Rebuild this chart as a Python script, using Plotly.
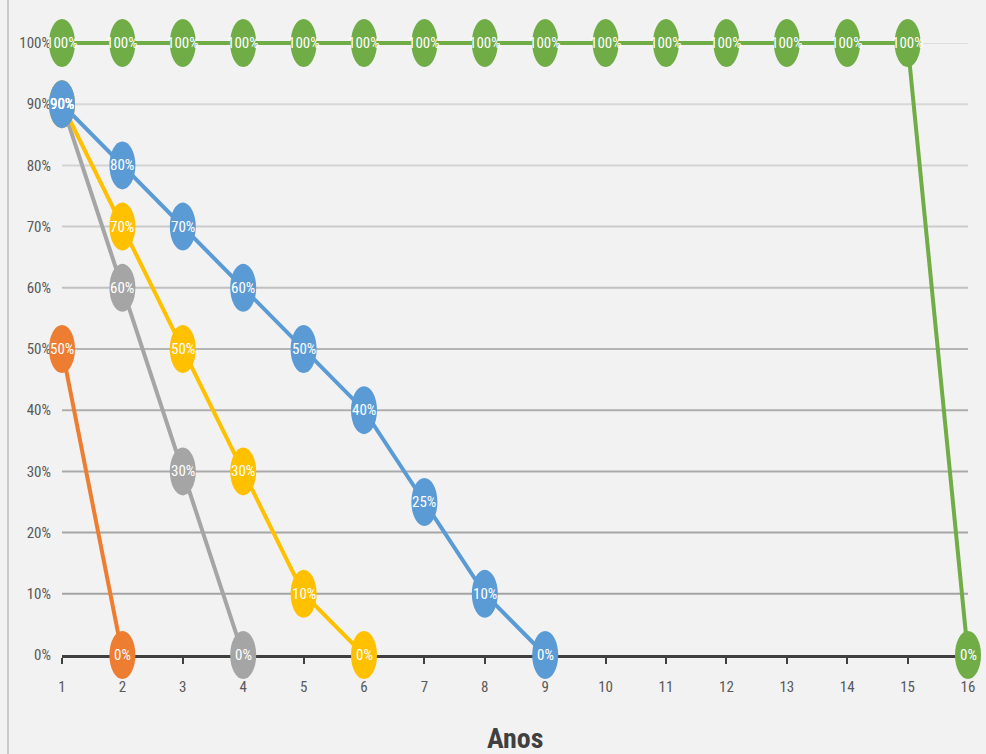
import plotly.graph_objects as go

# ---- data -----------------------------------------------------------------
anos = list(range(1, 17))
y_ticks = [0.0, 0.1, 0.2, 0.3, 0.4, 0.5, 0.6, 0.7, 0.8, 0.9, 1.0]

laranja_x = [1, 2]
laranja_y = [0.50, 0.00]

cinza_x = [1, 2, 3, 4]
cinza_y = [0.90, 0.60, 0.30, 0.00]

amarelo_x = [1, 2, 3, 4, 5, 6]
amarelo_y = [0.90, 0.70, 0.50, 0.30, 0.10, 0.00]

azul_x = [1, 2, 3, 4, 5, 6, 7, 8, 9]
azul_y = [0.90, 0.80, 0.70, 0.60, 0.50, 0.40, 0.25, 0.10, 0.00]

verde_x = [1, 2, 3, 4, 5, 6, 7, 8, 9, 10, 11, 12, 13, 14, 15, 16]
verde_y = [1.0, 1.0, 1.0, 1.0, 1.0, 1.0, 1.0, 1.0, 1.0, 1.0, 1.0, 1.0, 1.0, 1.0, 1.0, 0.0]

# drawing order: later series sit on top.
# The 100% series runs along the top edge, so it goes on the full-canvas
# overlay axes where its line is not clipped by the plot area.
series = [
    (laranja_x, laranja_y, "#ED7D31", "main"),
    (cinza_x, cinza_y, "#A5A5A5", "main"),
    (amarelo_x, amarelo_y, "#FFC000", "main"),
    (azul_x, azul_y, "#5B9BD5", "main"),
    (verde_x, verde_y, "#70AD47", "overlay"),
]

# gridline shades from 10% up to 100%
grid_colors = ["#a3a3a3", "#a5a5a5", "#a9a9a9", "#aeaeae", "#b5b5b5",
               "#c0c0c0", "#cbcbcb", "#d3d3d3", "#d8d8d8", "#dedede"]

# ---- layout geometry ------------------------------------------------------
W, H = 986, 754
PLOT_L, PLOT_R = 62, 968      # pixel columns of x = 1 and x = 16
PLOT_T, PLOT_B = 43, 655      # pixel rows of y = 100% and y = 0%
FONT = "Liberation Sans Narrow, Roboto Condensed, DejaVu Sans Condensed, Arial Narrow, sans-serif"

x_dom = [PLOT_L / W, PLOT_R / W]
y_dom = [(H - PLOT_B) / H, (H - PLOT_T) / H]
x_rng = [anos[0], anos[-1]]
y_rng = [0.0, 1.0]

# full-canvas overlay axes with the same scale, so markers are never clipped
sx = (PLOT_R - PLOT_L) / (x_rng[1] - x_rng[0])
sy = (PLOT_B - PLOT_T) / (y_rng[1] - y_rng[0])
x2_rng = [x_rng[0] - PLOT_L / sx, x_rng[1] + (W - PLOT_R) / sx]
y2_rng = [y_rng[0] - (H - PLOT_B) / sy, y_rng[1] + PLOT_T / sy]

fig = go.Figure()

shapes = []
annotations = []

# left border of the chart area
shapes.append(dict(type="line", xref="paper", yref="paper",
                   x0=8 / W, x1=8 / W, y0=0, y1=1,
                   line=dict(color="#c9c9c9", width=2)))

# horizontal gridlines
for v, c in zip(y_ticks[1:], grid_colors):
    shapes.append(dict(type="line", xref="x", yref="y", layer="below",
                       x0=anos[0], x1=anos[-1], y0=v, y1=v,
                       line=dict(color=c, width=2)))

for xs, ys, color, where in series:
    axes = dict(xaxis="x", yaxis="y") if where == "main" else dict(xaxis="x2", yaxis="y2")
    fig.add_trace(go.Scatter(
        x=xs, y=ys, mode="lines", **axes,
        line=dict(color=color, width=4),
        hoverinfo="skip", showlegend=False,
    ))
    for xv, yv in zip(xs, ys):
        shapes.append(dict(type="circle", xref="x2", yref="y2", layer="above",
                           xsizemode="pixel", ysizemode="pixel",
                           xanchor=xv, yanchor=yv,
                           x0=-13, x1=13, y0=-24, y1=24,
                           fillcolor=color, line=dict(width=0)))

for xs, ys, color, where in series:
    for xv, yv in zip(xs, ys):
        annotations.append(dict(xref="x2", yref="y2", x=xv, y=yv,
                                text=f"{round(yv * 100)}%", showarrow=False,
                                xanchor="center", yanchor="middle",
                                font=dict(family=FONT, size=15, color="white")))

# axis title
annotations.append(dict(xref="paper", yref="paper",
                        x=(x_dom[0] + x_dom[1]) / 2, y=(H - 738) / H,
                        text="<b>Anos</b>", showarrow=False,
                        xanchor="center", yanchor="middle",
                        font=dict(family=FONT, size=28, color="#404040")))

fig.update_layout(
    width=W, height=H,
    margin=dict(l=0, r=0, t=0, b=0),
    # transparent plot areas so the overlay subplot does not hide the main one
    paper_bgcolor="#F2F2F2", plot_bgcolor="rgba(0,0,0,0)",
    showlegend=False,
    shapes=shapes,
    annotations=annotations,
    xaxis=dict(domain=x_dom, range=x_rng, anchor="y",
               tickmode="array", tickvals=anos, ticktext=[str(a) for a in anos],
               showgrid=False, zeroline=False,
               showline=True, linecolor="#404040", linewidth=3,
               ticks="outside", ticklen=6, tickwidth=2, tickcolor="#404040",
               ticklabelstandoff=10, automargin=False,
               tickfont=dict(family=FONT, size=15, color="#595959")),
    yaxis=dict(domain=y_dom, range=y_rng, anchor="x",
               tickmode="array", tickvals=y_ticks, tickformat=".0%",
               showgrid=False, zeroline=False, showline=False, ticks="",
               ticklabelstandoff=10, automargin=False,
               tickfont=dict(family=FONT, size=15, color="#595959")),
    xaxis2=dict(domain=[0, 1], range=x2_rng, anchor="y2", visible=False),
    yaxis2=dict(domain=[0, 1], range=y2_rng, anchor="x2", visible=False),
)

fig.write_html("out.html")
